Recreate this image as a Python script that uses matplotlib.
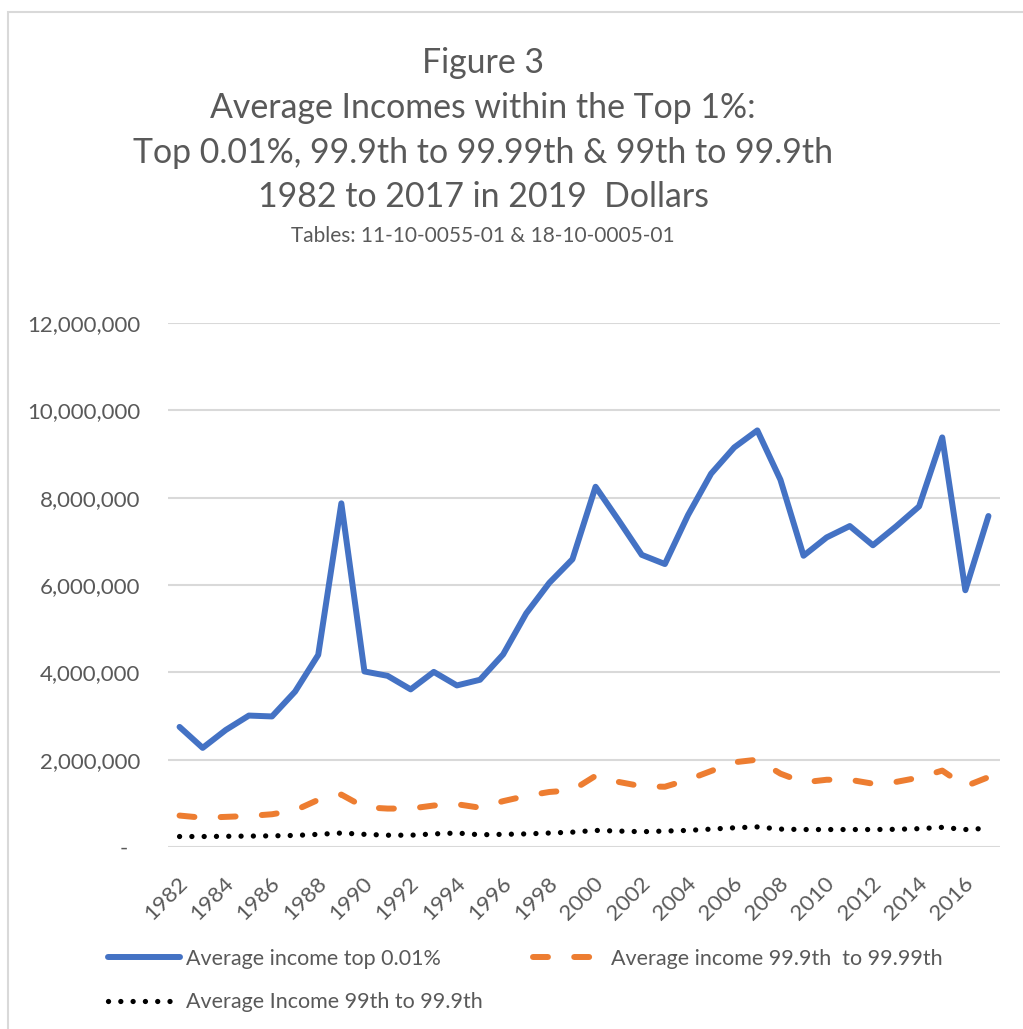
import numpy as np
import matplotlib as mpl
import matplotlib.pyplot as plt
import matplotlib.transforms as mtransforms
from matplotlib.patches import Rectangle

mpl.rcParams['font.family'] = ['Lato', 'DejaVu Sans']

years = list(range(1982, 2018))
# Average income top 0.01%
top001 = [2750000, 2270000, 2680000, 3010000, 2990000, 3560000, 4400000, 7870000,
          4020000, 3920000, 3610000, 4010000, 3700000, 3830000, 4410000, 5350000,
          6050000, 6590000, 8250000, 7480000, 6690000, 6480000, 7600000, 8550000,
          9150000, 9540000, 8410000, 6670000, 7090000, 7350000, 6910000, 7340000,
          7800000, 9380000, 5880000, 7580000]
# Average income 99.9th to 99.99th
p999_9999 = [720000, 670000, 690000, 710000, 750000, 840000, 1080000, 1200000,
             910000, 880000, 880000, 950000, 980000, 900000, 1050000, 1170000,
             1260000, 1300000, 1630000, 1490000, 1390000, 1380000, 1540000, 1740000,
             1940000, 2000000, 1680000, 1480000, 1540000, 1540000, 1450000, 1490000,
             1590000, 1750000, 1390000, 1600000]
# Average income 99th to 99.9th
p99_999 = [240000, 240000, 245000, 250000, 255000, 265000, 290000, 320000,
           290000, 270000, 270000, 300000, 320000, 280000, 290000, 300000,
           320000, 340000, 380000, 365000, 350000, 365000, 380000, 410000,
           440000, 460000, 410000, 400000, 400000, 400000, 400000, 405000,
           420000, 450000, 400000, 430000]

y_ticks = [0, 2000000, 4000000, 6000000, 8000000, 10000000, 12000000]
y_labels = ['-  ', '2,000,000', '4,000,000', '6,000,000', '8,000,000', '10,000,000', '12,000,000']

grey = '#595959'
W, H = 1023, 1029
fig = plt.figure(figsize=(W / 100, H / 100), dpi=100)

# chart border
fig.patches.append(Rectangle((8 / W, -0.05), 1.1, 1 - 12 / H + 0.05, transform=fig.transFigure,
                             fill=False, edgecolor='#d9d9d9', linewidth=1.5))

ax = fig.add_axes([168 / W, 1 - 847 / H, 832 / W, 524 / H])
x = np.arange(len(years))

l1, = ax.plot(x, top001, color='#4472C4', lw=4.3, solid_capstyle='round', solid_joinstyle='round',
              label='Average income top 0.01%')
l2, = ax.plot(x, p999_9999, color='#ED7D31', lw=4.3, linestyle=(0, (2.5, 4.4)),
              dash_capstyle='round', label='Average income 99.9th  to 99.99th')
l3, = ax.plot(x, p99_999, color='black', lw=3.8, linestyle=(0, (0.01, 2.32)),
              dash_capstyle='round', label='Average Income 99th to 99.9th')

ax.set_xlim(-0.5, len(years) - 0.5)
ax.set_ylim(0, 12000000)
ax.set_yticks(y_ticks)
ax.set_yticklabels(y_labels)
ax.set_xticks(x[::2])
ax.set_xticklabels([str(y) for y in years[::2]], rotation=45, ha='right', va='center',
                   rotation_mode='anchor')
ax.tick_params(axis='y', length=0, pad=20, labelsize=16, labelcolor=grey)
ax.tick_params(axis='x', length=0, pad=24, labelsize=16, labelcolor=grey)
shift = mtransforms.ScaledTranslation(5 / 100, 0, fig.dpi_scale_trans)
for lab in ax.get_xticklabels():
    lab.set_transform(lab.get_transform() + shift)
ax.grid(axis='y', color='#d9d9d9', lw=1.5)
ax.set_axisbelow(True)
for s in ax.spines.values():
    s.set_visible(False)

# titles
cx = 483 / W
fig.text(cx, 1 - 73 / H, 'Figure 3', ha='center', va='baseline', fontsize=24.4, color=grey)
fig.text(cx, 1 - 118 / H, 'Average Incomes within the Top 1%:', ha='center', va='baseline',
         fontsize=24.4, color=grey)
fig.text(cx, 1 - 163 / H, 'Top 0.01%, 99.9th to 99.99th & 99th to 99.9th', ha='center',
         va='baseline', fontsize=24.4, color=grey)
fig.text(cx, 1 - 207 / H, '1982 to 2017 in 2019  Dollars', ha='center', va='baseline',
         fontsize=24.4, color=grey)
fig.text(cx, 1 - 242 / H, 'Tables: 11-10-0055-01 & 18-10-0005-01', ha='center', va='baseline',
         fontsize=15, color=grey)

fs = 15.5
fpx = fs * 100 / 72
leg = fig.legend([l1, l3, l2], [l1.get_label(), l3.get_label(), l2.get_label()],
                 loc='upper left', bbox_to_anchor=((108 - 0.4 * fpx) / W, 1 - 940 / H), ncol=2,
                 frameon=False, fontsize=fs, handlelength=72 / fpx, handletextpad=6 / fpx,
                 columnspacing=50 / fpx, labelspacing=(45 - fpx) / fpx, borderaxespad=0,
                 labelcolor=grey)

fig.savefig('out.png', dpi=100)
